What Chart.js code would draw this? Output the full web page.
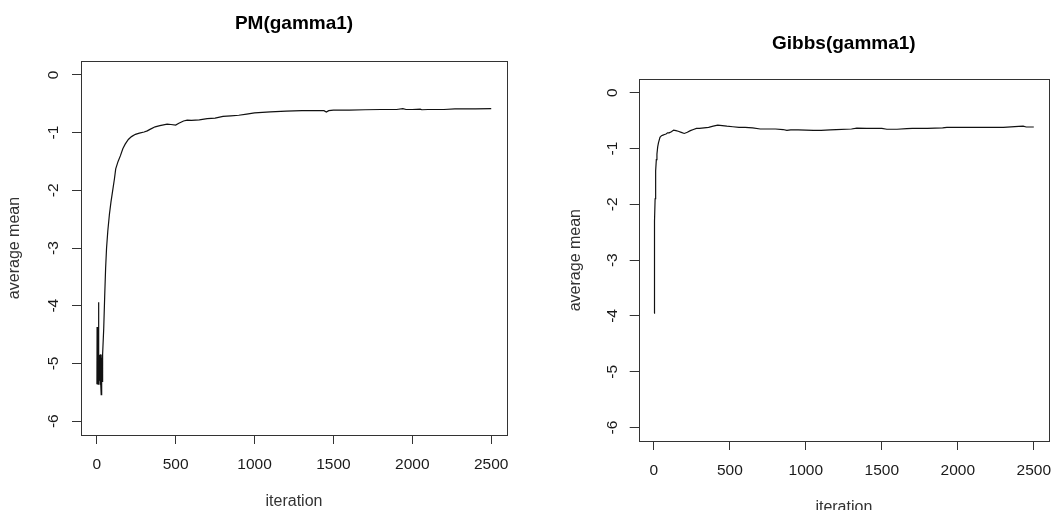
<!DOCTYPE html>
<html>
<head>
<meta charset="utf-8">
<script src="https://cdn.jsdelivr.net/npm/chart.js@4/dist/chart.umd.min.js"></script>
<style>
  html, body { margin: 0; padding: 0; background: #fff; overflow: hidden; width: 1061px; height: 510px; }
  #c1 { position: absolute; left: 0; top: 0; }
  #c2 { position: absolute; left: 530px; top: 0; }
</style>
</head>
<body>
<canvas id="c1" width="530" height="510"></canvas>
<canvas id="c2" width="560" height="520"></canvas>
<script>
// ---- data ----
const pmTitle = 'PM(gamma1)';
const gibbsTitle = 'Gibbs(gamma1)';
const xTitle = 'iteration';
const yTitle = 'average mean';

const xTicks = [0, 500, 1000, 1500, 2000, 2500];
const xTickLabels = ['0', '500', '1000', '1500', '2000', '2500'];
const yTicks = [-6, -5, -4, -3, -2, -1, 0];
const yTickLabels = ['-6', '-5', '-4', '-3', '-2', '-1', '0'];

const pmIter = [1, 2, 3, 4, 5, 6, 8, 10, 12, 14, 16, 18, 20, 22, 24, 26, 28, 30, 32, 34, 36, 38,
  44, 50, 56, 62, 70, 80, 90, 100, 112, 120, 135, 150, 165, 180, 200, 220, 245, 270, 300, 320, 340,
  370, 400, 446, 470, 500, 520, 550, 573, 600, 650, 700, 750, 800, 850, 900, 950, 1000, 1050, 1100,
  1200, 1300, 1400, 1440, 1455, 1470, 1500, 1600, 1700, 1800, 1900, 1940, 1960, 2000, 2050, 2060,
  2100, 2200, 2270, 2300, 2400, 2500];
const pmMean = [-5.36, -4.37, -5.35, -4.9, -5.3, -4.85, -5.36, -4.84, -3.94, -5.35, -4.86, -5.3, -4.85,
  -5.36, -4.84, -5.35, -5.54, -4.9, -5.3, -4.85, -5.32, -4.84,
  -4.4, -3.85, -3.35, -3.0, -2.7, -2.42, -2.2, -2.02, -1.8, -1.63, -1.5, -1.4, -1.28, -1.2, -1.12, -1.07,
  -1.03, -1.01, -0.99, -0.97, -0.94, -0.9, -0.88, -0.855, -0.86, -0.87, -0.84, -0.8, -0.785, -0.79,
  -0.78, -0.76, -0.75, -0.72, -0.71, -0.7, -0.68, -0.66, -0.65, -0.64, -0.63, -0.62, -0.62, -0.62,
  -0.645, -0.62, -0.61, -0.61, -0.605, -0.6, -0.6, -0.585, -0.6, -0.6, -0.595, -0.605, -0.6, -0.6,
  -0.59, -0.59, -0.59, -0.585];

const gibbsIter = [1, 3, 5, 8, 10, 13, 16, 20, 25, 30, 40, 50, 60, 70, 80, 90, 100, 115, 130, 145, 160,
  180, 200, 220, 240, 260, 280, 300, 330, 360, 390, 420, 450, 480, 520, 560, 600, 650, 700, 750, 800,
  850, 875, 900, 950, 1000, 1050, 1100, 1160, 1200, 1300, 1335, 1400, 1500, 1533, 1600, 1664, 1700,
  1800, 1900, 1928, 2000, 2100, 2200, 2300, 2400, 2430, 2450, 2500];
const gibbsMean = [-3.95, -2.9, -2.3, -1.9, -1.75, -1.4, -1.2, -1.1, -0.97, -0.9, -0.8, -0.77, -0.76,
  -0.75, -0.74, -0.72, -0.72, -0.7, -0.67, -0.68, -0.69, -0.71, -0.73, -0.71, -0.68, -0.66, -0.64,
  -0.64, -0.63, -0.62, -0.6, -0.58, -0.59, -0.6, -0.61, -0.62, -0.62, -0.63, -0.65, -0.65, -0.65,
  -0.66, -0.675, -0.665, -0.665, -0.67, -0.675, -0.675, -0.665, -0.66, -0.65, -0.635, -0.64, -0.64,
  -0.655, -0.655, -0.645, -0.64, -0.64, -0.63, -0.62, -0.62, -0.62, -0.62, -0.62, -0.605, -0.6,
  -0.615, -0.615];

// ---- drawing ----
const FONT = '"Liberation Sans", Arial, sans-serif';
const INK = '#1a1a1a';
const FRAME = '#333333';

const framePlugin = {
  id: 'frame',
  afterDraw(chart) {
    const a = chart.chartArea, ctx = chart.ctx;
    ctx.save();
    ctx.strokeStyle = FRAME;
    ctx.lineWidth = 1;
    ctx.strokeRect(Math.round(a.left) + 0.5, Math.round(a.top) + 0.5,
      Math.round(a.right - a.left), Math.round(a.bottom - a.top));
    ctx.restore();
  }
};

function makeChart(id, title, iters, means, L) {
  const points = iters.map((it, i) => ({ x: it, y: means[i] }));
  return new Chart(document.getElementById(id), {
    type: 'line',
    data: { datasets: [{ data: points, borderColor: '#111', borderWidth: 1.2, pointRadius: 0, tension: 0, fill: false }] },
    options: {
      responsive: false,
      animation: false,
      events: [],
      layout: { padding: { left: 0, right: L.padRight, top: 0, bottom: 0 } },
      plugins: {
        legend: { display: false },
        tooltip: { enabled: false },
        title: {
          display: true, text: title, fullSize: false, color: '#000',
          font: { family: FONT, size: 19, weight: 'bold', lineHeight: 1 },
          padding: { top: L.titleTop, bottom: L.titleBottom }
        }
      },
      scales: {
        x: {
          type: 'linear', min: -100, max: 2600,
          afterBuildTicks: s => { s.ticks = xTicks.map(v => ({ value: v })); },
          afterFit: s => { s.height = L.xAxisH; },
          grid: { display: true, drawOnChartArea: false, drawTicks: true, tickLength: 9, tickColor: FRAME, tickWidth: 1 },
          border: { display: false },
          ticks: {
            maxRotation: 0, minRotation: 0, autoSkip: false, padding: 11, color: INK,
            font: { family: FONT, size: 15.5 },
            callback: v => xTickLabels[xTicks.indexOf(v)]
          },
          title: {
            display: true, text: xTitle, color: '#333',
            font: { family: FONT, size: 16, lineHeight: 1 },
            padding: { top: 0, bottom: L.xTitlePad }
          }
        },
        y: {
          type: 'linear', min: -6.24, max: 0.24,
          afterBuildTicks: s => { s.ticks = yTicks.map(v => ({ value: v })); },
          afterFit: s => { s.width = L.yAxisW; },
          grid: { display: true, drawOnChartArea: false, drawTicks: true, tickLength: 9, tickColor: FRAME, tickWidth: 1 },
          border: { display: false },
          ticks: {
            minRotation: 90, maxRotation: 90, autoSkip: false, padding: L.yTickPad, crossAlign: 'center', color: INK,
            font: { family: FONT, size: 15.5 },
            callback: v => yTickLabels[yTicks.indexOf(v)]
          },
          title: {
            display: true, text: yTitle, color: '#333',
            font: { family: FONT, size: 16, lineHeight: 1 },
            padding: { top: L.yTitlePad, bottom: 0 }
          }
        }
      }
    },
    plugins: [framePlugin]
  });
}

makeChart('c1', pmTitle, pmIter, pmMean, {
  padRight: 23, titleTop: 14.6, titleBottom: 27.4, xAxisH: 75, xTitlePad: 0,
  yAxisW: 81, yTickPad: 11, yTitlePad: 7
});
makeChart('c2', gibbsTitle, gibbsIter, gibbsMean, {
  padRight: 41, titleTop: 34.6, titleBottom: 25.7, xAxisH: 79, xTitlePad: 4.5,
  yAxisW: 108.7, yTickPad: 10.3, yTitlePad: 37.5
});
</script>
</body>
</html>
